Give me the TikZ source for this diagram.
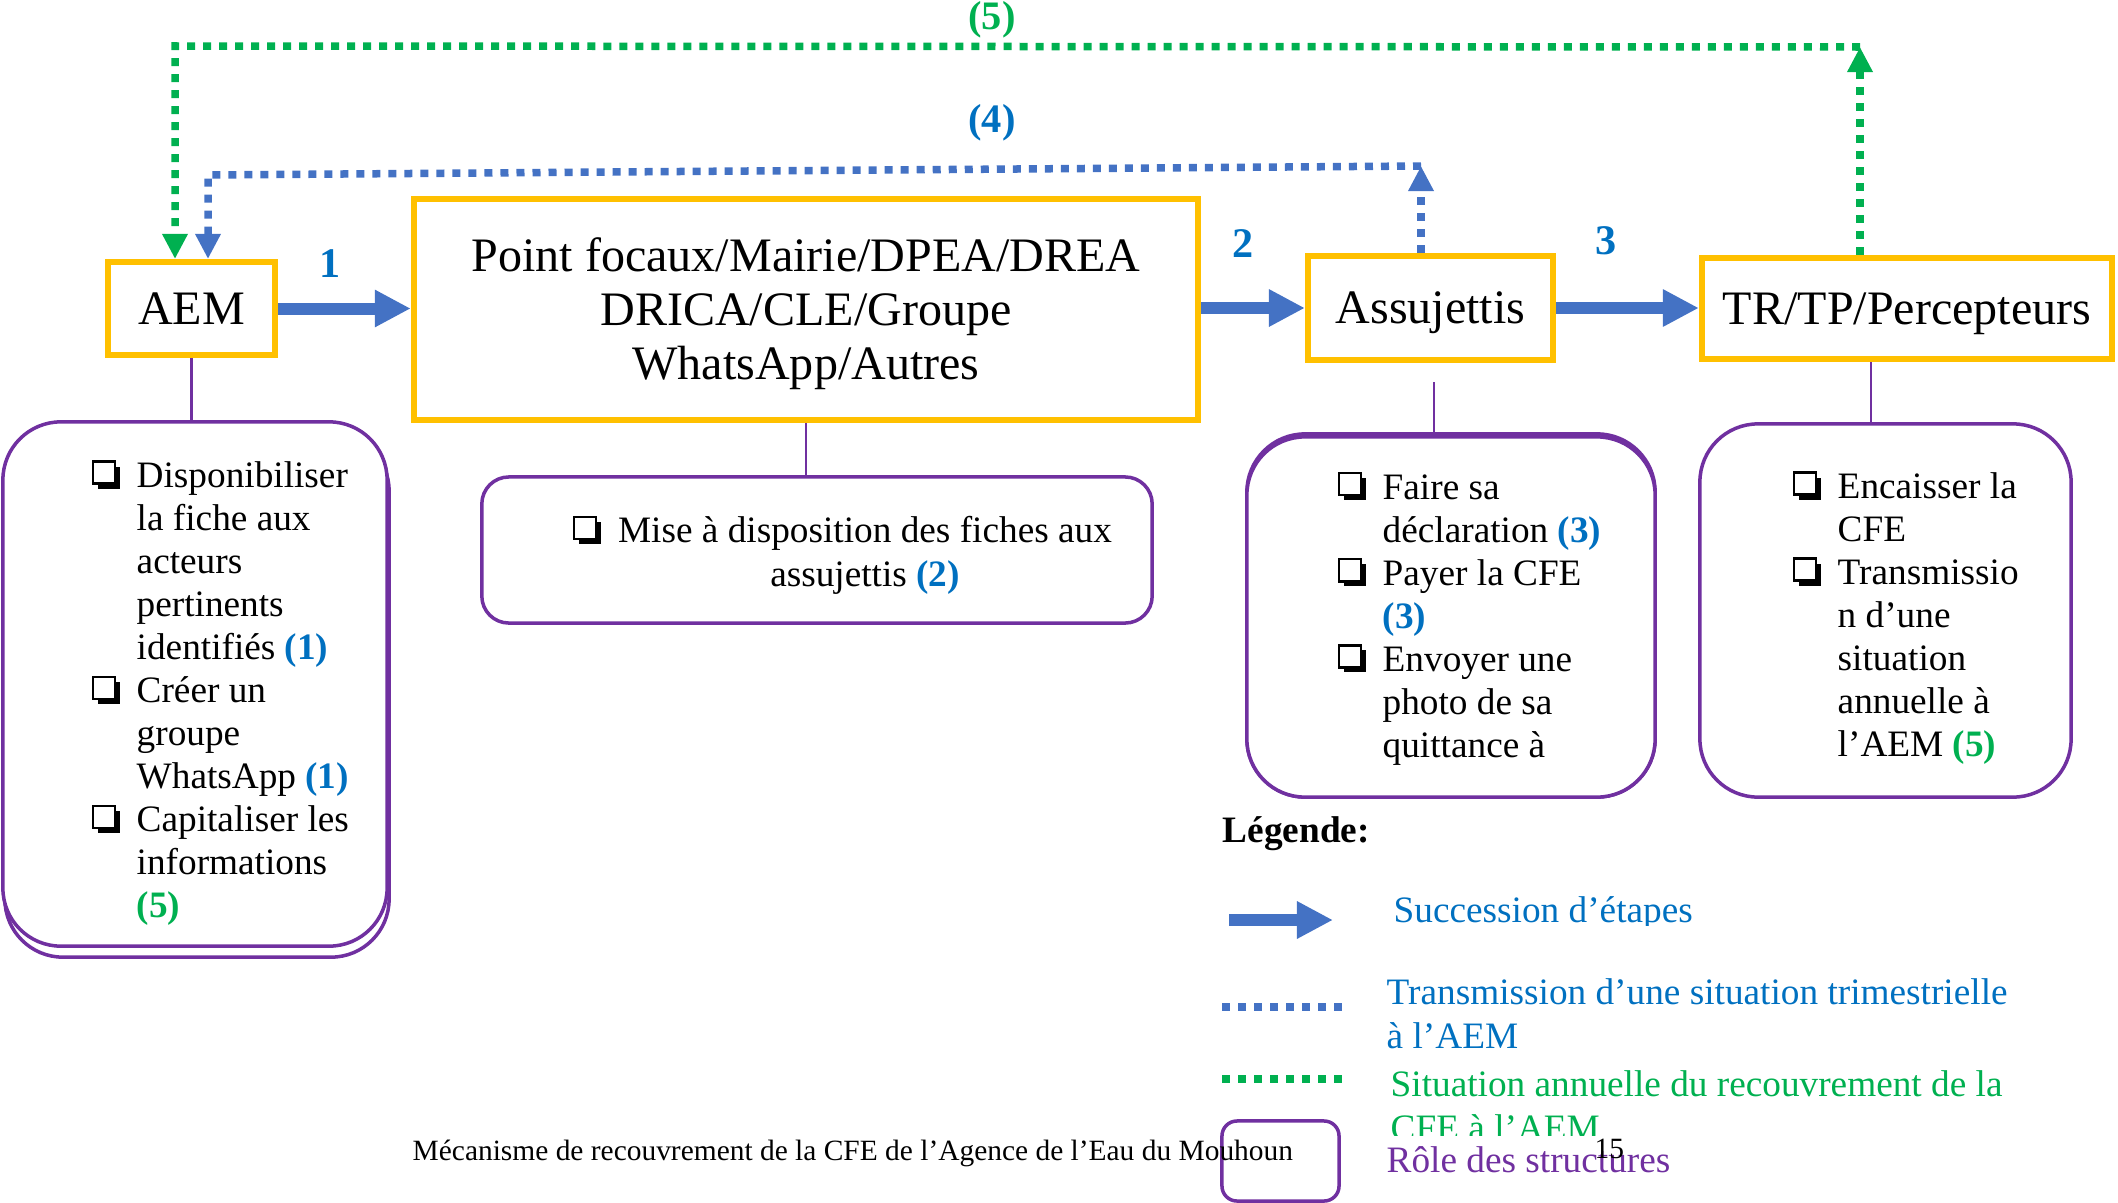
\documentclass[tikz,border=0pt]{standalone}
\usepackage{fontspec}
\setmainfont{Liberation Serif}
\usetikzlibrary{arrows.meta}

\definecolor{boxyellow}{HTML}{FFC000}
\definecolor{flowblue}{HTML}{4472C4}
\definecolor{labelblue}{HTML}{0070C0}
\definecolor{annualgreen}{HTML}{00B050}
\definecolor{rolepurple}{HTML}{7030A0}

\newcommand{\boxfont}{\fontsize{13.66}{15.36}\selectfont}
\newcommand{\rolefont}{\fontsize{10.6}{12.23}\selectfont}
\newcommand{\widefont}{\fontsize{10.6}{12.5}\selectfont}
\newcommand{\stepfont}{\fontsize{12}{14}\selectfont}
\newcommand{\tagfont}{\fontsize{11.5}{13}\selectfont}
\newcommand{\footfont}{\fontsize{8.37}{10}\selectfont}
% shadowed check box, hung in front of a list item
\newcommand{\chkglyph}{\tikz[baseline=0pt, x=1cm, y=1cm]{%
  \fill[black] (0.05,-0.01) rectangle (0.27,0.21);
  \draw[black, line width=0.022cm, fill=white] (0,0.04) rectangle (0.22,0.26);}}
\newcommand{\chk}{\llap{\smash{\chkglyph}\hspace{0.17cm}}}
\newcommand{\bl}[1]{\textcolor{labelblue}{\textbf{#1}}}
\newcommand{\gr}[1]{\textcolor{annualgreen}{\textbf{#1}}}

\begin{document}
\begin{tikzpicture}[x=0.01cm, y=-0.01cm,
  actor/.style={draw=boxyellow, line width=0.06cm, inner sep=0pt, align=center, font=\boxfont},
  rolebox/.style={draw=rolepurple, line width=0.035cm, rounded corners=0.58cm, fill=white, inner sep=0pt},
  roletext/.style={inner sep=0pt, align=left, anchor=north west, font=\rolefont},
  legtext/.style={inner sep=0pt, font=\rolefont},
  stepnum/.style={inner sep=0pt, text=labelblue, font=\stepfont\bfseries},
  flow/.style={draw=flowblue, line width=0.12cm, -{Triangle[width=0.35cm,length=0.36cm]}},
  quarterly/.style={draw=flowblue, line width=0.075cm, dash pattern=on 0.08cm off 0.08cm},
  annual/.style={draw=annualgreen, line width=0.075cm, dash pattern=on 0.08cm off 0.08cm},
  dottip/.style={-{Triangle[width=0.24cm,length=0.25cm]}},
  link/.style={draw=rolepurple, line width=0.025cm},
]
\useasboundingbox (0,0) rectangle (2118,1203);

% actors
\node[actor, text depth=0pt, minimum width=1.67cm, minimum height=0.93cm] (aem) at (191.5,308.5) {AEM};
\node[actor, minimum width=7.84cm, minimum height=2.21cm] (pf) at (806,309.5)
  {\rule{0pt}{0.43cm}Point focaux/Mairie/DPEA/DREA\\DRICA/CLE/Groupe\\WhatsApp/Autres};
\node[actor, text depth=0pt, minimum width=2.45cm, minimum height=1.04cm] (assu) at (1430.5,308) {Assujettis};
\node[actor, text depth=0pt, minimum width=4.10cm, minimum height=1.01cm] (tr) at (1907,308.5) {TR/TP/Percepteurs};

% succession of steps
\draw[flow] (aem.east) -- (aem.east -| pf.west);
\draw[flow] (pf.east |- assu.west) -- (assu.west);
\draw[flow] (assu.east) -- (assu.east -| tr.west);
\node[stepnum] (n1) at (330,264) {1};
\node[stepnum] (n2) at (1243,244) {2};
\node[stepnum] (n3) at (1606,241) {3};

% quarterly report (4)
\coordinate (btop) at (1421,166);
\coordinate (bleft) at (208,175);
\draw[quarterly, dottip] (assu.north -| btop) -- (btop);
\draw[quarterly, dottip] (btop) -- (bleft) -- (bleft |- aem.north);
\node[stepnum, font=\tagfont\bfseries] (t4) at (992,123) {(4)};

% annual report (5)
\coordinate (gtop) at (1860,47);
\coordinate (gleft) at (175,46);
\draw[annual, dottip] (tr.north -| gtop) -- (gtop);
\draw[annual, dottip] (gtop) -- (gleft) -- (gleft |- aem.north);
\node[stepnum, text=annualgreen, font=\tagfont\bfseries] (t5) at (992,20) {(5)};

% roles
\node[rolebox, minimum width=3.84cm, minimum height=5.24cm] (aemshadow) at (197,695) {};
\node[rolebox, minimum width=3.84cm, minimum height=5.24cm] (aemrole) at (195,684) {};
\node[rolebox, rounded corners=0.27cm, minimum width=6.70cm, minimum height=1.46cm] (pfrole) at (817,550) {};
\node[rolebox, minimum width=4.08cm, minimum height=3.63cm] (assushadow) at (1451,615.5) {};
\node[rolebox, minimum width=4.08cm, minimum height=3.60cm] (assurole) at (1451,617) {};
\node[rolebox, minimum width=3.71cm, minimum height=3.73cm] (trrole) at (1885.5,610.5) {};

\coordinate (assulink) at (1434,382);
\coordinate (trlink) at (1871,0);
\draw[link] (aem.south) -- (aem.south |- aemrole.north);
\draw[link] (pf.south) -- (pf.south |- pfrole.north);
\draw[link] (assulink) -- (assulink |- assurole.north);
\draw[link] (tr.south -| trlink) -- (trlink |- trrole.north);

\node[roletext] (aemtxt) at (136,461) {\chk Disponibiliser\\la fiche aux\\acteurs\\pertinents\\identifiés \bl{(1)}\\\chk Créer un\\groupe\\WhatsApp \bl{(1)}\\\chk Capitaliser les\\informations\\\gr{(5)}};
\node[roletext, align=center, anchor=north, font=\widefont] (pftxt) at (865,516) {\chk Mise à disposition des fiches aux\\assujettis \bl{(2)}};
\node[roletext] (assutxt) at (1382,474) {\chk Faire sa\\déclaration \bl{(3)}\\\chk Payer la CFE\\\bl{(3)}\\\chk Envoyer une\\photo de sa\\quittance à};
\node[roletext] (trtxt) at (1837,472) {\chk Encaisser la\\CFE\\\chk Transmissio\\n d’une\\situation\\annuelle à\\l’AEM \gr{(5)}};

% legend
\node[roletext, font=\rolefont\bfseries] (legtitle) at (1222,816) {Légende:};
\coordinate (la1) at (1229,920);
\coordinate (la2) at (1333,920);
\draw[flow] (la1) -- (la2);
\begin{scope}
  \clip (1380,870) rectangle (1800,925);
  \node[legtext, text=labelblue, anchor=base west] (legsucc) at (1393,922) {Succession d’étapes};
\end{scope}
\coordinate (lq1) at (1222,1007);
\coordinate (lq2) at (1342,1007);
\draw[quarterly] (lq1) -- (lq2);
\node[roletext, font=\widefont, text=labelblue] (legquart) at (1386,977.5) {Transmission d’une situation trimestrielle\\à l’AEM};
\coordinate (lg1) at (1222,1079);
\coordinate (lg2) at (1342,1079);
\draw[annual] (lg1) -- (lg2);
\begin{scope}
  \clip (1380,1060) rectangle (2118,1135);
  \node[roletext, font=\widefont, text=annualgreen] (legannual) at (1390,1069.5) {Situation annuelle du recouvrement de la\\CFE à l’AEM};
\end{scope}
\node[rolebox, fill=none, rounded corners=0.15cm, minimum width=1.17cm, minimum height=0.80cm] (legrole) at (1280.5,1161) {};
\node[legtext, text=rolepurple, anchor=base west] (legroletxt) at (1386,1172) {Rôle des structures};

% page footer
\node[inner sep=0pt, anchor=base west, font=\footfont] (footer) at (412,1160) {Mécanisme de recouvrement de la CFE de l’Agence de l’Eau du Mouhoun};
\node[inner sep=0pt, anchor=base west, font=\footfont] (pagenum) at (1594,1158) {15};
\end{tikzpicture}
\end{document}
